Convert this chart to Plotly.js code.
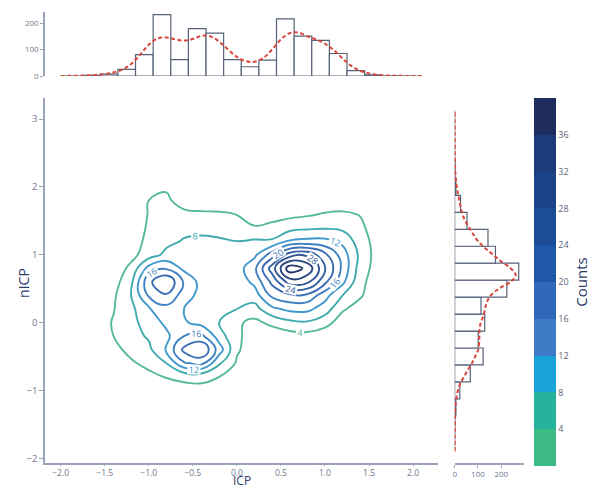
<!DOCTYPE html>
<html><head><meta charset="utf-8">
<script src="https://cdn.plot.ly/plotly-3.0.1.min.js"></script>
<style>html,body{margin:0;padding:0;background:#fff}#chart{width:591px;height:490px}</style>
</head><body><div id="chart"></div>
<script>
// ---- data ----
const gridX = [-1.6,-1.4,-1.2,-1.0,-0.8,-0.6,-0.4,-0.2,0.0,0.2,0.4,0.6,0.8,1.0,1.2,1.4,1.6,1.8];
const gridY = [-1.2,-1.0,-0.8,-0.6,-0.4,-0.2,0.0,0.2,0.4,0.6,0.8,1.0,1.2,1.4,1.6,1.8,2.0,2.2];
const density = [
 [0,0,0,0.3,0.8,1.2,1.2,0.8,0.3,0,0,0,0,0,0,0,0,0],
 [0,0,0.3,1,2.2,2.8,2.9,2.2,1,0.2,0,0,0,0,0,0,0,0],
 [0,0.5,1.5,3,4.2,4.8,5,4,2,0.8,0.2,0.2,0.2,0,0,0,0,0],
 [0.3,1.5,3.5,5,8,15.5,17,8.5,3.5,1.5,0.4,0.4,0.4,0.2,0,0,0,0],
 [0.8,3,5,7,12.5,21,24,14,4.5,2,0.5,0.5,0.5,0.3,0.2,0,0,0],
 [1.5,4,6.5,8.5,11,16,17,10,4.5,2.8,1.5,2.2,2.5,1.5,0.6,0.3,0,0],
 [2,4.3,7,9.5,13,12.5,10.5,8,4.6,3,5,7,7.5,5.5,2,0.8,0.2,0],
 [2,3.8,7,11.5,14.5,12,10,8.7,8,6.5,11,13,13,10,4.5,2.3,0.8,0],
 [1.8,3.3,8,16.5,19.5,14,10.5,9.5,8.8,10,17,19,19,13.5,8,4.5,1.2,0.2],
 [1.2,2.3,7,19,24,15.5,10.5,9.3,9.5,13,21,30,29,21,13,5,2,0.3],
 [0.6,1.5,5,13.5,15.5,11,9.5,9.3,10,15,26,38.5,35,24.5,15,6,2.3,0.4],
 [0.3,1,2.8,6,9,8.8,9,9,9.8,11,18,26,27,21,14,7,2.2,0.4],
 [0.2,0.8,2.2,5,7,8.3,8.7,8.5,8,8.5,8.5,12.5,13,13,11,6,2.2,0.3],
 [0.1,0.6,1.8,4.5,6,7,7,6.5,5.5,4.2,5.2,6.5,7.2,7.5,7,4.8,2,0.3],
 [0,0.5,1.5,4.2,5.2,4.8,4.6,4.5,3.9,2.8,2.2,2.8,3.4,4.3,4.6,3.8,1.5,0.2],
 [0,0.3,1,4,4.6,2.5,1.8,1.5,1.2,1,0.5,0.5,0.8,1,1.5,1,0.5,0],
 [0,0,0.5,2.8,3.6,1.2,0.4,0.2,0,0,0,0,0,0,0.3,0.2,0,0],
 [0,0,0,0.3,0.5,0.2,0,0,0,0,0,0,0,0,0,0,0,0]
];
const topBinCenters = [-1.85,-1.65,-1.45,-1.25,-1.05,-0.85,-0.65,-0.45,-0.25,-0.05,0.15,0.35,0.55,0.75,0.95,1.15,1.35,1.55,1.75,1.95];
const topCounts     = [0,2,7,25,81,232,62,179,162,62,35,60,216,151,135,85,20,4,1,0];
const rightBinCenters = [-1.75,-1.5,-1.25,-1.0,-0.75,-0.5,-0.25,0.0,0.25,0.5,0.75,1.0,1.25,1.5,1.75,2.0,2.25,2.5,2.75,3.0];
const rightCounts     = [0,1,5,22,67,122,101,129,113,224,275,175,143,53,25,5,2,0,0,0];
const kdeXpos = [-2.0,-1.9,-1.8,-1.7,-1.6,-1.5,-1.4,-1.3,-1.2,-1.1,-1.0,-0.9,-0.8,-0.7,-0.6,-0.5,-0.4,-0.3,-0.2,-0.1,0.0,0.1,0.2,0.3,0.4,0.5,0.6,0.7,0.8,0.9,1.0,1.1,1.2,1.3,1.4,1.5,1.6,1.7,1.8,1.9,2.0,2.1];
const kdeXval = [0,0.5,1,2,4,7,13,24,45,80,118,142,146,139,134,140,152,150,130,100,72,56,54,68,100,138,162,164,150,138,122,98,66,38,20,10,4,2,1,0.5,0,0];
const kdeYpos = [-1.9,-1.6,-1.4,-1.2,-1.1,-1.0,-0.9,-0.8,-0.7,-0.6,-0.5,-0.4,-0.3,-0.2,-0.1,0.0,0.1,0.2,0.3,0.4,0.5,0.6,0.7,0.8,0.9,1.0,1.1,1.2,1.3,1.4,1.5,1.6,1.7,1.8,1.9,2.0,2.2,2.5,2.8,3.1];
const kdeYval = [0,0.5,1.5,4,8,14,24,40,56,74,88,101,105,106,107,112,124,130,138,155,190,240,262,240,200,165,130,100,80,62,45,33,26,20,14,9,3,1,0.3,0];
const colorbarTicks = [4,8,12,16,20,24,28,32,36];
const lineColors = ['#55b99a','#40abae','#4198cd','#3f80c2','#3a6db3','#3460a4','#2e5292','#2a4681','#26396c'];
const bandColors = ['#3dbb86','#25b39d','#1aa3d8','#3f7bc6','#2f68b8','#2058a8','#1b4d96','#1c4388','#1d3a7b','#1e2c5e'];
const xTitle = 'ICP', yTitle = 'nICP', cbTitle = 'Counts';

// ---- styling helpers ----
const navy = '#2d3d6b', tickGrey = '#6f778b', axisLine = '#9aa3b8';
const lineScale = lineColors.map((c,i)=>[i/(lineColors.length-1), c]);
const bandScale = [];
bandColors.forEach((c,i)=>{ bandScale.push([i/bandColors.length, c]); bandScale.push([(i+1)/bandColors.length, c]); });

const W = 591, H = 490;
const px = (a,b)=>[a/W, b/W];
const py = (top,bottom)=>[(H-bottom)/H, (H-top)/H];
const redDash = {color:'#d8463c', width:2, dash:'4px,2.5px', shape:'spline'};

const traces = [
 {type:'contour', x:gridX, y:gridY, z:density, xaxis:'x', yaxis:'y',
  contours:{start:4,end:36,size:4,coloring:'lines',showlabels:true,labelfont:{size:9,family:'Open Sans'}},
  line:{width:1.9,smoothing:1.3}, colorscale:lineScale, showscale:false, hoverinfo:'skip'},
 {type:'scatter', mode:'markers', x:[null], y:[null], xaxis:'x', yaxis:'y', hoverinfo:'skip', showlegend:false,
  marker:{color:[0], cmin:0, cmax:40, colorscale:bandScale, showscale:true,
   colorbar:{x:537/W, xanchor:'left', y:(H-466)/H, yanchor:'bottom', len:(466-98)/H, lenmode:'fraction',
    thickness:22, thicknessmode:'pixels', xpad:0, ypad:0, outlinewidth:0, tickvals:colorbarTicks, ticks:'',
    tickfont:{size:9,color:'#5b6478'},
    title:{text:cbTitle, side:'right', font:{size:15,color:navy}}}}},
 {type:'bar', x:topBinCenters, y:topCounts, width:0.2, xaxis:'x2', yaxis:'y2',
  marker:{color:'#ffffff', line:{color:'#566279', width:1.2}}, hoverinfo:'skip'},
 {type:'scatter', mode:'lines', x:kdeXpos, y:kdeXval, xaxis:'x2', yaxis:'y2', line:redDash, hoverinfo:'skip'},
 {type:'bar', orientation:'h', y:rightBinCenters, x:rightCounts, width:0.25, xaxis:'x3', yaxis:'y3',
  marker:{color:'#ffffff', line:{color:'#566279', width:1.2}}, hoverinfo:'skip'},
 {type:'scatter', mode:'lines', x:kdeYval, y:kdeYpos, xaxis:'x3', yaxis:'y3', line:redDash, hoverinfo:'skip'}
];

const baseAxis = {showgrid:false, zeroline:false, showline:true, linecolor:axisLine, linewidth:1.5,
  ticks:'outside', ticklen:4, tickcolor:axisLine, tickfont:{size:9.5,color:tickGrey,family:'Open Sans'}, automargin:false};

const layout = {
  width:W, height:H, margin:{l:0,r:0,t:0,b:0}, paper_bgcolor:'#fff', plot_bgcolor:'#fff',
  showlegend:false, bargap:0, font:{family:'Open Sans'},
  xaxis:Object.assign({}, baseAxis, {domain:px(45,440), range:[-2.18,2.28], tickvals:[-2,-1.5,-1,-0.5,0,0.5,1,1.5,2], tickformat:'.1f', anchor:'y', ticklen:1, tickfont:{size:8.5,color:tickGrey,family:'Open Sans'}}),
  yaxis:Object.assign({}, baseAxis, {domain:py(98,463), range:[-2.07,3.31], tickvals:[-2,-1,0,1,2,3], anchor:'x'}),
  xaxis2:Object.assign({}, baseAxis, {domain:px(45,440), matches:'x', anchor:'y2', showticklabels:false, showline:false, ticks:''}),
  yaxis2:Object.assign({}, baseAxis, {domain:py(12,76), range:[0,242], tickvals:[0,100,200], anchor:'x2', ticklen:3, tickfont:{size:8,color:tickGrey}}),
  xaxis3:Object.assign({}, baseAxis, {domain:px(457,527), range:[0,299], tickvals:[0,100,200], anchor:'y3', ticklen:3, tickfont:{size:8,color:tickGrey}}),
  yaxis3:Object.assign({}, baseAxis, {domain:py(98,463), matches:'y', anchor:'x3', showticklabels:false, showline:false, ticks:''}),
  annotations:[
    {text:xTitle, xref:'paper', yref:'paper', x:243/W, y:0, xanchor:'center', yanchor:'bottom', borderpad:0, showarrow:false, font:{size:12,color:navy}},
    {text:yTitle, xref:'paper', yref:'paper', x:23/W, y:(H-283)/H, xanchor:'center', yanchor:'middle', textangle:-90, showarrow:false, font:{size:14,color:navy}}
  ]
};

Plotly.newPlot('chart', traces, layout, {staticPlot:true, displayModeBar:false});
</script>
</body></html>
